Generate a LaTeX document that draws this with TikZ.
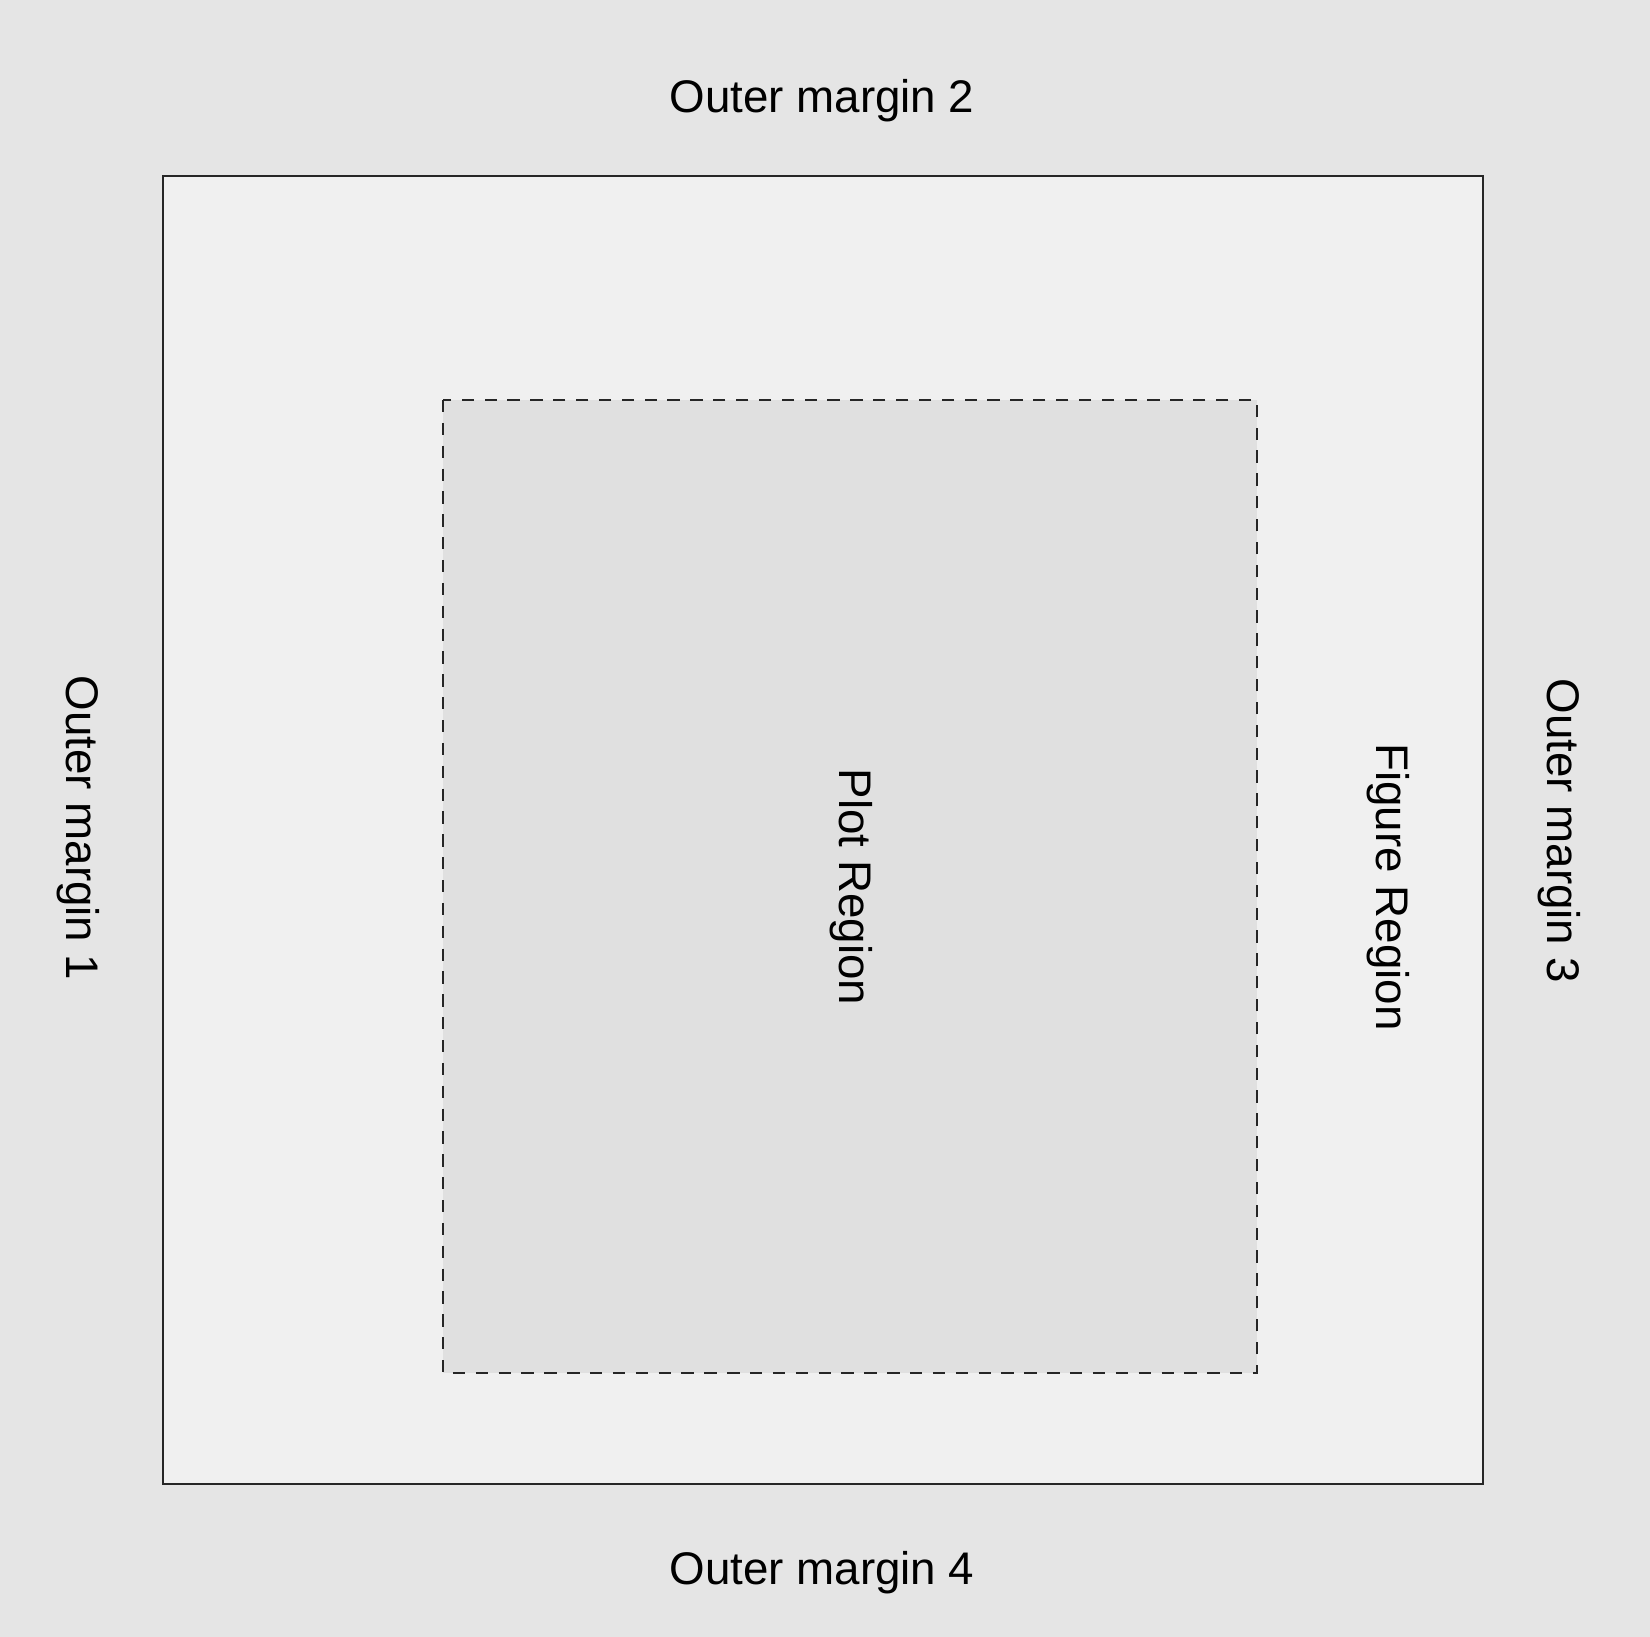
\documentclass[tikz,border=0pt]{standalone}
\usepackage{fontspec}
\setmainfont{Liberation Sans}
\usetikzlibrary{positioning}

\begin{document}
\begin{tikzpicture}[x=0.01cm, y=-0.01cm]
        \tikzstyle{label} = [inner sep=0pt, font=\fontsize{13}{15}\selectfont]
        \tikzstyle{sidelabel} = [label, rotate=-90]
        \tikzstyle{figbox} = [draw=black!85, line width=0.8pt, fill=black!6]
        \tikzstyle{plotbox} = [draw=black!85, line width=0.8pt, dash pattern=on 3.5pt off 3pt, fill=black!12]

        % page background fixes the size
        \fill[black!10] (0,0) rectangle (1650,1637);
        \useasboundingbox (0,0) rectangle (1650,1637);

        \draw[figbox] (163,176) rectangle (1483,1484);
        \draw[plotbox] (443,400) rectangle (1257,1373);

        \node (om2) [label] at (822,101) {Outer margin 2};
        \node (om4) [label] at (822,1573) {Outer margin 4};
        \node (om1) [sidelabel] at (78,828) {Outer margin 1};
        \node (om3) [sidelabel] at (1559,831) {Outer margin 3};
        \node (fig) [sidelabel] at (1388,887) {Figure Region};
        \node (plot) [sidelabel] at (851,887) {Plot Region};
    \end{tikzpicture}
\end{document}
